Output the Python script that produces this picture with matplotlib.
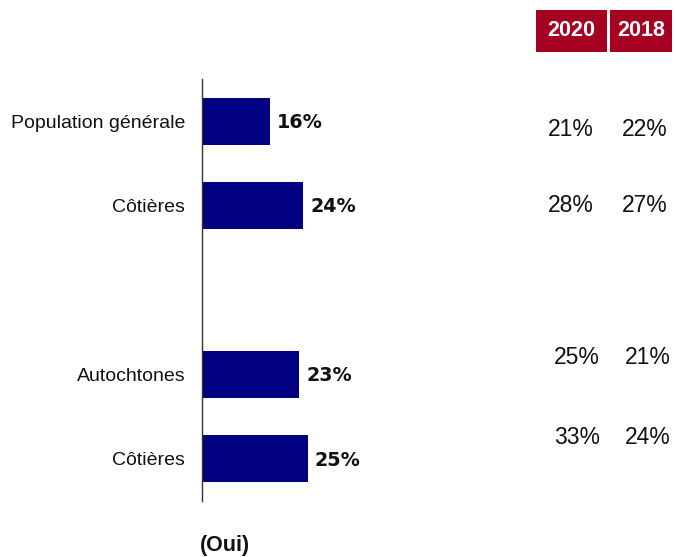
import matplotlib
matplotlib.use("Agg")
import matplotlib.pyplot as plt
from matplotlib.patches import Rectangle

# ---- data ----
categories = ["Population générale", "Côtières", "", "Autochtones", "Côtières"]
values_2021 = [16, 24, None, 23, 25]
years = ["2020", "2018"]
values_2020 = ["21%", "28%", "25%", "33%"]
values_2018 = ["22%", "27%", "21%", "24%"]
x_caption = "(Oui)"

W, H = 676, 557
fig = plt.figure(figsize=(W / 100, H / 100), dpi=100)

def fx(px):
    return px / W

def fy(py):
    return 1 - py / H

SANS = ["Liberation Sans", "DejaVu Sans"]

XMAX = 40
px_per_unit = 4.22
ax_left, ax_top, ax_bottom = 202, 79, 501
ax = fig.add_axes([fx(ax_left), fy(ax_bottom), (XMAX * px_per_unit) / W, (ax_bottom - ax_top) / H])

pos = list(range(len(categories)))
bar_pos = [p for p, v in zip(pos, values_2021) if v is not None]
bar_val = [v for v in values_2021 if v is not None]
ax.barh(bar_pos, bar_val, height=0.56, color="#000080")
ax.set_xlim(0, XMAX)
ax.set_ylim(len(categories) - 0.5, -0.5)

for p, v in zip(bar_pos, bar_val):
    ax.annotate(f"{v}%", xy=(v, p), xytext=(5, -1), textcoords="offset points",
                ha="left", va="center", fontsize=13.8, fontweight="bold",
                family=["DejaVu Sans"], color="#111111")

ax.set_yticks(bar_pos)
ax.set_yticklabels([categories[p] for p in bar_pos], fontsize=14, family=SANS,
                   color="#111111")
ax.tick_params(axis="y", length=0, pad=12)
ax.set_xticks([])
for s in ["top", "right", "bottom"]:
    ax.spines[s].set_visible(False)
ax.spines["left"].set_color("#333333")
ax.spines["left"].set_linewidth(1.0)

# caption
fig.text(fx(225), fy(546), x_caption, ha="center", va="center", fontsize=15.5,
         fontweight="bold", family=SANS, color="#111111")

# header boxes
boxes = [(536, 607), (610, 672)]
for (x0, x1), yr in zip(boxes, years):
    fig.patches.append(Rectangle((fx(x0), fy(52)), fx(x1) - fx(x0), fy(10) - fy(52),
                                 transform=fig.transFigure, facecolor="#A50021",
                                 edgecolor="none"))
    fig.text(fx((x0 + x1) / 2), fy(31), yr, ha="center", va="center", fontsize=15.5,
             fontweight="bold", color="white", family=SANS)

# right columns
row_y = [130, 206, 358, 438]
col_x_2020 = [571, 571, 577, 577]
col_x_2018 = [645, 645, 648, 648]
for y, x1, x2, a, b in zip(row_y, col_x_2020, col_x_2018, values_2020, values_2018):
    fig.text(fx(x1), fy(y), a, ha="center", va="center", fontsize=16.5,
             family=SANS, color="#111111")
    fig.text(fx(x2), fy(y), b, ha="center", va="center", fontsize=16.5,
             family=SANS, color="#111111")

fig.savefig("out.png", dpi=100)
